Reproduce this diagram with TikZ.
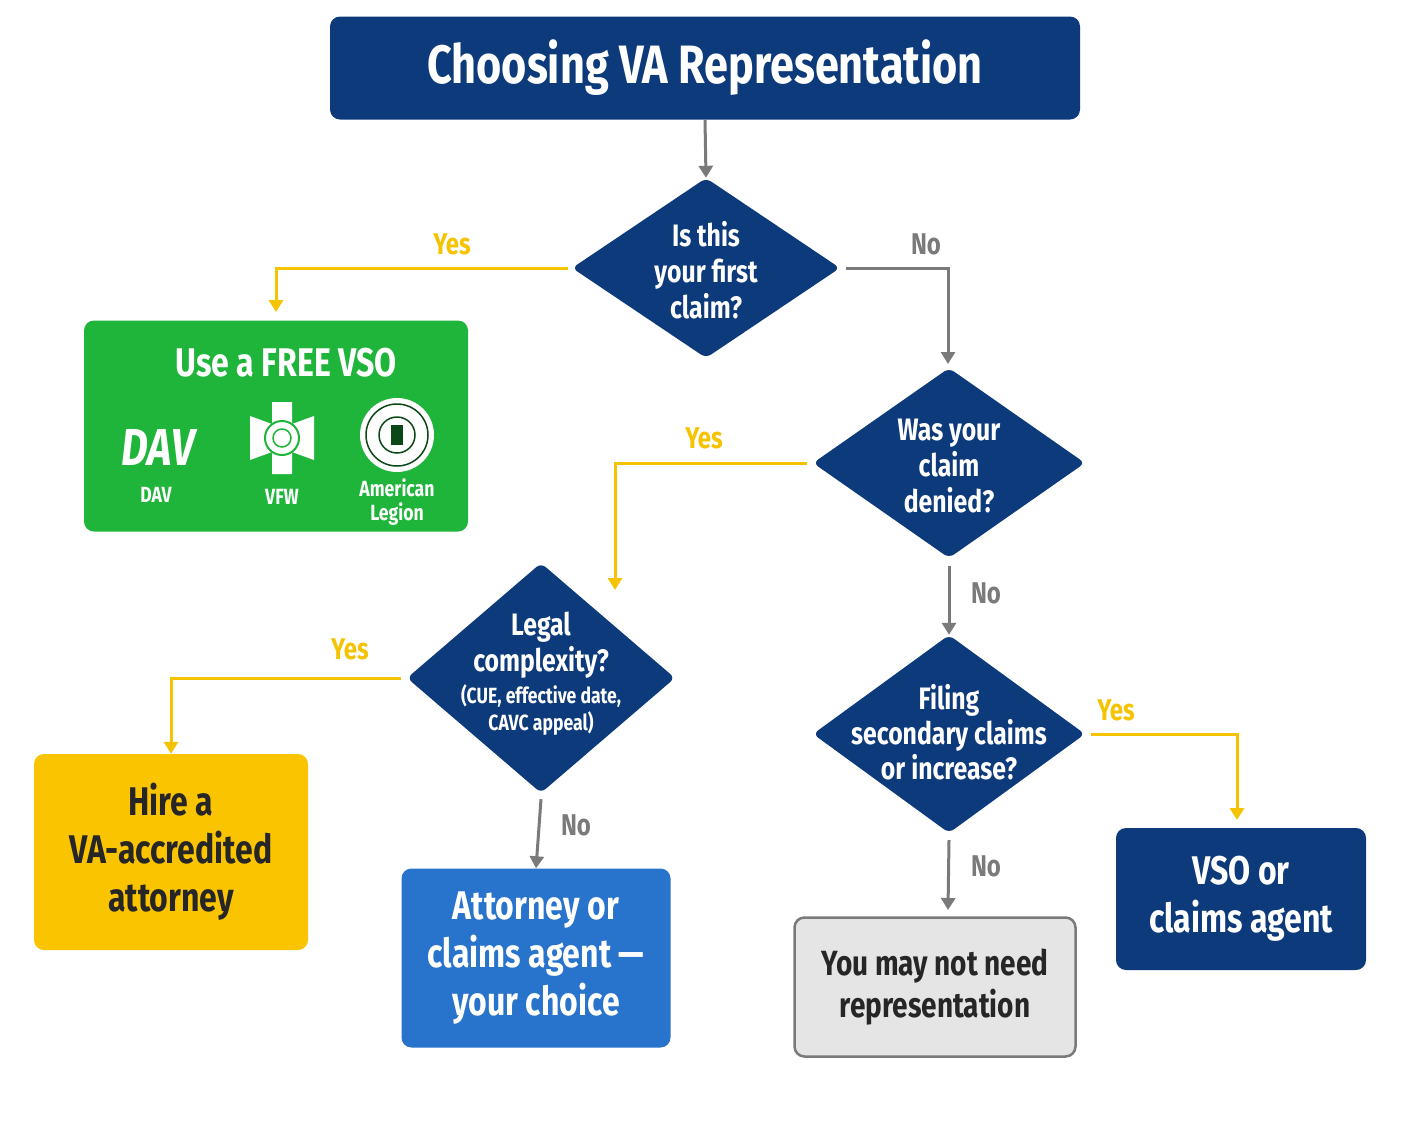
\documentclass[tikz,border=0pt]{standalone}
\usepackage{fontspec}
\setmainfont{Fira Sans}[FakeStretch=0.8]
\usetikzlibrary{shapes.geometric,arrows.meta}
\definecolor{navy}{HTML}{0D3A7A}
\definecolor{ggreen}{HTML}{1EB53A}
\definecolor{yel}{HTML}{F5C300}
\definecolor{ybox}{HTML}{FBC400}
\definecolor{bblue}{HTML}{2873CB}
\definecolor{gline}{HTML}{7A7A7A}
\definecolor{gbox}{HTML}{E5E5E5}
\newcommand{\fs}[1]{\fontsize{#1}{\fsbase}\selectfont\bfseries}
\newcommand{\fsbase}{1}
\newcommand{\fz}[2]{\fontsize{#1}{#2}\selectfont\bfseries}
\begin{document}
\begin{tikzpicture}[x=1pt,y=-1pt,
  dia/.style={diamond,fill=navy,inner sep=0pt,rounded corners=6pt},
  dtxt/.style={text=white,align=center,font=\fz{31}{36}},
  box/.style={rounded corners=10pt,align=center},
  ga/.style={draw=gline,line width=3pt,-{Triangle[length=12pt,width=14pt]}},
  ya/.style={draw=yel,line width=3pt,-{Triangle[length=12pt,width=14pt]}},
  yl/.style={text=yel,font=\fz{30}{34}},
  nl/.style={text=gline,font=\fz{30}{34}}]
\useasboundingbox (0,0) rectangle (1402,1122);
\fill[white] (0,0) rectangle (1402,1122);
% title
\node[box,fill=navy,text=white,minimum width=750pt,minimum height=103pt,font=\fz{54}{60}] (title) at (705,68) {Choosing VA Representation};
% diamonds
\node[dia,minimum width=268pt,minimum height=180pt] (d1) at (706,268) {};
\node[dtxt] (t1) at (706,270) {Is this\\your first\\claim?};
\node[dia,minimum width=272pt,minimum height=190pt] (d2) at (949,463) {};
\node[dtxt] (t2) at (949,466) {Was your\\claim\\denied?};
\node[dia,minimum width=268pt,minimum height=230pt] (d3) at (541,678) {};
\node[dtxt] (t3) at (541,645) {Legal\\complexity?};
\node[dtxt,font=\fz{22}{27}] (t3b) at (541,710) {(CUE, effective date,\\CAVC appeal)};
\node[dia,minimum width=272pt,minimum height=198pt] (d4) at (949,734) {};
\node[dtxt,font=\fz{31}{35}] (t4) at (949,732) {Filing\\secondary claims\\or increase?};
% boxes
\node[box,fill=ggreen,minimum width=384pt,minimum height=211pt] (green) at (276,426) {};
\node[text=white,font=\fz{40}{46}] (vso) at (286,363) {Use a FREE VSO};
\node[box,fill=ybox,minimum width=274pt,minimum height=196pt,font=\fz{40}{48},text=black!85] (hire) at (171,852) {Hire a\\VA-accredited\\attorney};
\node[box,fill=bblue,minimum width=269pt,minimum height=179pt,font=\fz{40}{48},text=white] (att) at (536,958) {Attorney or\\claims agent —\\your choice};
\node[box,fill=gbox,draw=gline,line width=2.5pt,minimum width=281pt,minimum height=139pt,font=\fz{35}{42},text=black!85] (none) at (935,987) {You may not need\\representation};
\node[box,fill=navy,minimum width=250pt,minimum height=142pt,font=\fz{40}{48},text=white] (agent) at (1241,899) {VSO or\\claims agent};
% logos
\node[text=white,font=\fz{52}{56}\itshape] (dav) at (158,447) {DAV};
\node[text=white,font=\fz{22}{26}] (davl) at (156,495) {DAV};
\node[text=white,font=\fz{22}{26}] (vfwl) at (282,497) {VFW};
\node[text=white,font=\fz{22}{24},align=center] (all) at (397,502) {American\\Legion};
\coordinate (vfw) at (282,438);
\fill[white] (vfw) ++(-10,-36) -- ++(20,0) -- ++(0,22) -- ++(22,-8) -- ++(0,44) -- ++(-22,-8) -- ++(0,22) -- ++(-20,0) -- ++(0,-22) -- ++(-22,8) -- ++(0,-44) -- ++(22,8) -- cycle;
\draw[ggreen,line width=2pt] (vfw) circle (17);
\draw[ggreen,line width=1.5pt] (vfw) circle (9);
\coordinate (leg) at (397,435);
\fill[white] (leg) circle (37);
\draw[ggreen!40!black,line width=1.5pt] (leg) circle (31);
\draw[ggreen!40!black,line width=1.5pt] (leg) circle (18);
\fill[ggreen!40!black] (leg) ++(-6,-10) rectangle ++(12,20);
% connectors
\draw[ga] (title.south) -- (d1.north);
\draw[ya] (d1.west) ++(-4,0) -| (276,312) coordinate (c1);
\node[yl] (y1) at (452,244) {Yes};
\draw[ga] (d1.east) ++(6,0) -| (948,364) coordinate (c2);
\node[nl] (n1) at (926,244) {No};
\draw[ya] (d2.west) ++(-6,0) -| (615,590) coordinate (c3);
\node[yl] (y2) at (704,438) {Yes};
\draw[ga] (d2.south) ++(0,8) -- (d4.north);
\node[nl] (n2) at (986,593) {No};
\draw[ya] (d3.west) ++(-6,0) -| (hire.north);
\node[yl] (y3) at (350,649) {Yes};
\draw[ga] (d3.south) ++(0,6) -- (att.north);
\node[nl] (n3) at (576,825) {No};
\draw[ya] (d4.east) ++(6,0) -| (1237,820) coordinate (c4);
\node[yl] (y4) at (1116,710) {Yes};
\draw[ga] (d4.south) ++(0,7) -- (948,910) coordinate (c5);
\node[nl] (n4) at (986,866) {No};
\end{tikzpicture}
\end{document}
